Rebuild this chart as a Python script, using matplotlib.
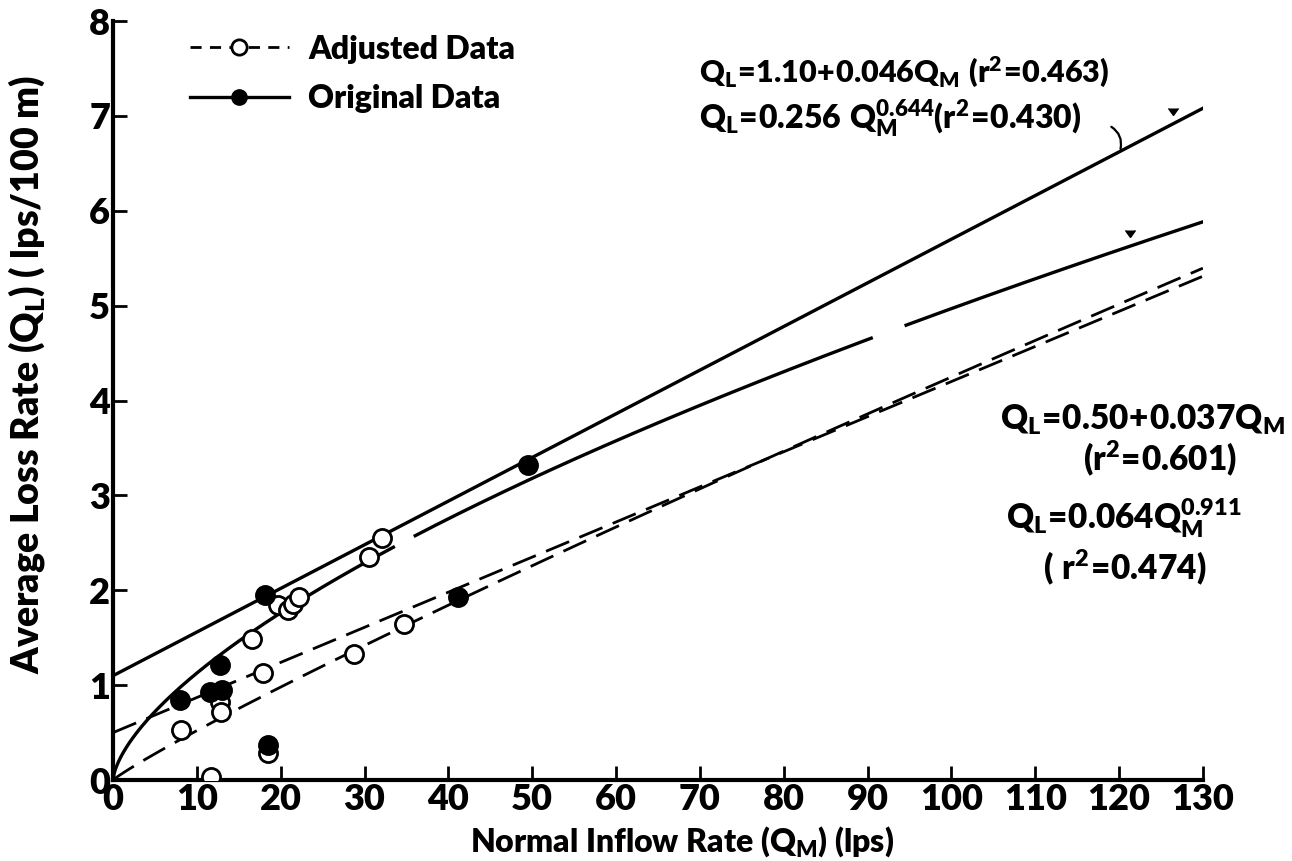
import numpy as np
import matplotlib
matplotlib.use("Agg")
import matplotlib.pyplot as plt
from matplotlib.lines import Line2D

# Data
orig_x = [8.0, 11.6, 13.0, 12.8, 18.1, 18.5, 41.1, 49.5]
orig_y = [0.84, 0.93, 0.95, 1.21, 1.95, 0.37, 1.93, 3.32]

adj_x = [8.1, 11.7, 12.8, 12.9, 18.5, 17.9, 16.6, 19.7, 20.9, 21.5, 22.2, 28.7, 30.5, 32.1, 34.7]
adj_y = [0.53, 0.03, 0.82, 0.72, 0.28, 1.13, 1.49, 1.84, 1.79, 1.86, 1.93, 1.33, 2.35, 2.55, 1.65]

# Regression equations (from the figure annotations)
orig_lin = (1.10, 0.046)
orig_pow = (0.256, 0.644)
adj_lin = (0.50, 0.037)
adj_pow = (0.064, 0.911)

x_ticks = list(range(0, 131, 10))
y_ticks = list(range(0, 9))

FONT = 'Lato'
W = 'heavy'
plt.rcParams['font.family'] = [FONT, 'DejaVu Sans']
plt.rcParams['font.weight'] = W
plt.rcParams['mathtext.fontset'] = 'custom'
plt.rcParams['mathtext.rm'] = FONT + ':heavy'
plt.rcParams['mathtext.it'] = FONT + ':heavy'
plt.rcParams['mathtext.bf'] = FONT + ':heavy'
plt.rcParams['mathtext.default'] = 'bf'

fig = plt.figure(figsize=(12.92, 8.61), dpi=100)
ax = fig.add_axes([0.0875, 0.094, 0.8435, 0.8816])

def f_lin(p, x):
    return p[0] + p[1] * np.asarray(x, dtype=float)

def f_pow(p, x):
    return p[0] * np.asarray(x, dtype=float) ** p[1]

q = np.linspace(0, 130, 1000)
lw = 2.4
dash = (0, (9, 4))
ax.plot(q, f_lin(orig_lin, q), color='black', lw=lw)
pw_gap = f_pow(orig_pow, q)
pw_gap[((q > 33.5) & (q < 36.0)) | ((q > 90.5) & (q < 94.5))] = np.nan
ax.plot(q, pw_gap, color='black', lw=lw)
ax.plot(q, f_lin(adj_lin, q), color='black', lw=2.0, ls=dash)
ax.plot(q, f_pow(adj_pow, q), color='black', lw=2.0, ls=dash)

# small flag marks on the solid fitted lines
ax.plot([126.4], [f_lin(orig_lin, 126.4) + 0.1], marker=7, color='black', ms=7, ls='none')
ax.plot([121.3], [f_pow(orig_pow, 121.3) + 0.1], marker=7, color='black', ms=7, ls='none')
# leader from the upper equation to the linear fit
ax.annotate('', xy=(120.1, f_lin(orig_lin, 120.1)), xytext=(118.8, 6.9),
            arrowprops=dict(arrowstyle='-', lw=1.6, color='black',
                            connectionstyle='arc3,rad=-0.4'))

ax.scatter(adj_x, adj_y, s=170, facecolors='white', edgecolors='black', linewidths=2.0, zorder=3)
ax.scatter(orig_x, orig_y, s=170, facecolors='black', edgecolors='black', linewidths=2.0, zorder=4)

ax.set_xlim(0, 130)
ax.set_ylim(0, 8)
ax.set_xticks(x_ticks)
ax.set_yticks(y_ticks)
ax.tick_params(direction='in', length=10, width=2, labelsize=26, pad=2)
for lab in ax.get_xticklabels() + ax.get_yticklabels():
    lab.set_fontweight(W)
for s in ['top', 'right']:
    ax.spines[s].set_visible(False)
for s in ['left', 'bottom']:
    ax.spines[s].set_linewidth(3)

ax.set_xlabel(r'Normal Inflow Rate ($Q_M$) (lps)', fontsize=23, fontweight=W)
ax.xaxis.set_label_coords(0.522, -0.058)
ax.set_ylabel(r'Average Loss Rate ($Q_L$) ( lps/100 m)', fontsize=27, fontweight=W)
ax.yaxis.set_label_coords(-0.061, 0.534)

h_adj = Line2D([], [], color='black', lw=2, ls=(0, (4, 3)), marker='o', markersize=11,
               markerfacecolor='white', markeredgewidth=2)
h_orig = Line2D([], [], color='black', lw=2.4, marker='o', markersize=11,
                markerfacecolor='black')
leg = ax.legend([h_adj, h_orig], ['Adjusted Data', 'Original Data'], loc='upper left',
                bbox_to_anchor=(0.044, 1.02), frameon=False, handlelength=3.1,
                handletextpad=0.6, labelspacing=0.65,
                prop={'family': FONT, 'weight': W, 'size': 23})

ax.text(0.538, 0.933, r'$Q_L\!=\!1.10\!+\!0.046Q_M\ (r^2\!=\!0.463)$',
        transform=ax.transAxes, fontsize=22, ha='left', va='center')
ax.text(0.538, 0.872, r'$Q_L\!=\!0.256\ Q_M^{0.644}(r^2\!=\!0.430)$',
        transform=ax.transAxes, fontsize=23, ha='left', va='center')

ax.text(1.075, 0.474, r'$Q_L\!=\!0.50\!+\!0.037Q_M$', transform=ax.transAxes,
        fontsize=24, ha='right', va='center', clip_on=False)
ax.text(0.9606, 0.424, r'$(r^2\!=\!0.601)$', transform=ax.transAxes,
        fontsize=24, ha='center', va='center', clip_on=False)
ax.text(1.035, 0.345, r'$Q_L\!=\!0.064Q_M^{0.911}$', transform=ax.transAxes,
        fontsize=24, ha='right', va='center', clip_on=False)
ax.text(0.928, 0.281, r'$(\ r^2\!=\!0.474)$', transform=ax.transAxes,
        fontsize=24, ha='center', va='center', clip_on=False)

fig.savefig('out.png', dpi=100)
